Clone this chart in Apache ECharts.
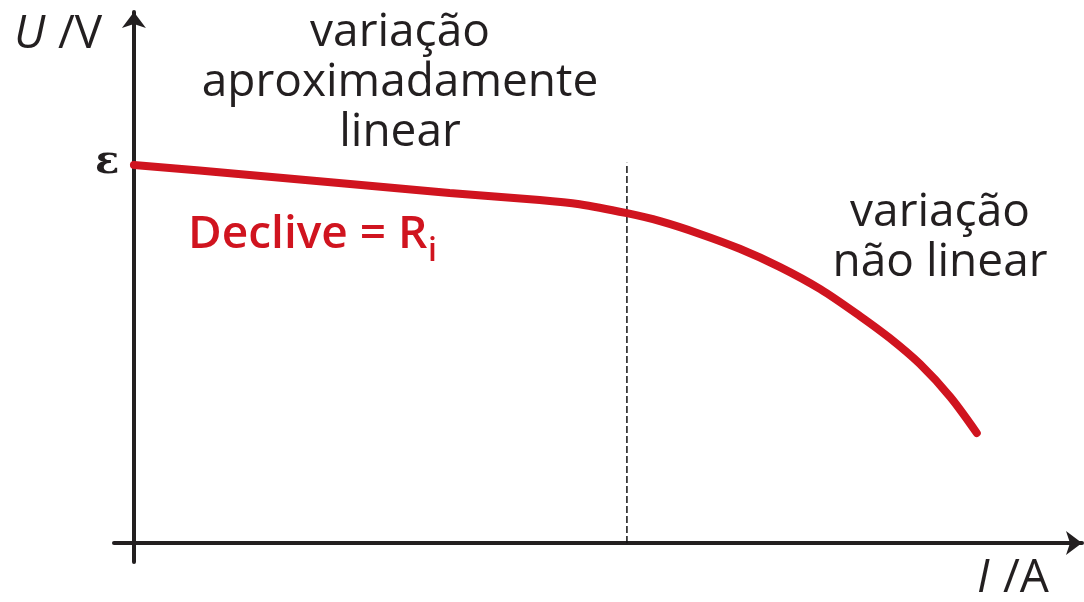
<!DOCTYPE html>
<html>
<head>
<meta charset="utf-8">
<script src="https://cdn.jsdelivr.net/npm/echarts@6/dist/echarts.min.js"></script>
<style>
  html, body, #main { margin: 0; padding: 0; width: 1084px; height: 602px; background: #fff; overflow: hidden; }
</style>
</head>
<body>
<div id="main"></div>
<script>
// curva U(I) (unidades arbitrarias 0..100)
var correnteI = [0, 12.2, 22.8, 33.3, 42.8, 47.0, 52.0, 55.5, 59.7, 63.9, 68.1, 72.4, 76.6, 79.7, 82.9, 86.1, 88.9];
var tensaoU = [71.2, 69.3, 67.6, 65.9, 64.6, 63.8, 62.1, 60.6, 58.2, 55.4, 52.0, 47.8, 42.7, 38.6, 33.7, 27.5, 20.7];
// limite da zona linear (linha tracejada)
var limiteI = [52, 52];
var limiteU = [0, 71.6];

var curva = correnteI.map(function (v, i) { return [v, tensaoU[i]]; });
var limite = limiteI.map(function (v, i) { return [v, limiteU[i]]; });

var ink = "#231f20";
var red = "#d0141f";

var myChart = echarts.init(document.getElementById("main"));
var option = {
  animation: false,
  grid: { left: 114, right: 2, top: 12, bottom: 40 },
  xAxis: {
    type: "value",
    min: -2.1,
    max: 100,
    axisLine: {
      onZero: true,
      symbol: ["none", "arrow"],
      symbolSize: [18, 16],
      lineStyle: { color: ink, width: 4 },
    },
    axisTick: { show: false },
    axisLabel: { show: false },
    splitLine: { show: false },
  },
  yAxis: {
    type: "value",
    min: -3.6,
    max: 100,
    axisLine: {
      onZero: true,
      symbol: ["none", "arrow"],
      symbolSize: [18, 16],
      lineStyle: { color: ink, width: 4 },
    },
    axisTick: { show: false },
    axisLabel: { show: false },
    splitLine: { show: false },
  },
  series: [
    {
      type: "line",
      data: limite,
      symbol: "none",
      lineStyle: { color: "#111", width: 1.5, type: [7, 3] },
      silent: true,
    },
    {
      type: "line",
      data: curva,
      smooth: 0.3,
      symbol: "none",
      lineStyle: { color: red, width: 8, cap: "round" },
      silent: true,
    },
  ],
  graphic: [
    { type: "text", left: 14, top: 12, style: { text: "U", font: "italic 46px 'Open Sans'", fill: ink } },
    { type: "text", left: 58, top: 12, style: { text: "/V", font: "46px 'Open Sans'", fill: ink } },
    { type: "text", left: 95, top: 143, style: { text: "ε", font: "bold 40px 'DejaVu Serif'", fill: ink } },
    { type: "text", left: 977, top: 556, style: { text: "I", font: "italic 46px 'Open Sans'", fill: ink } },
    { type: "text", left: 1003, top: 556, style: { text: "/A", font: "46px 'Open Sans'", fill: ink } },
    {
      type: "text", x: 400, y: 8,
      style: {
        text: "variação\naproximadamente\nlinear",
        font: "46px 'Open Sans'", fill: ink, align: "center", lineHeight: 50,
      },
    },
    {
      type: "text", x: 940, y: 188,
      style: {
        text: "variação\nnão linear",
        font: "46px 'Open Sans'", fill: ink, align: "center", lineHeight: 50,
      },
    },
    { type: "text", left: 188, top: 212, style: { text: "Declive = R", font: "600 46px 'Open Sans'", fill: red } },
    { type: "text", left: 428, top: 236, style: { text: "i", font: "600 32px 'Open Sans'", fill: red } },
  ],
};
myChart.setOption(option);
window.onresize = myChart.resize;
</script>
</body>
</html>
